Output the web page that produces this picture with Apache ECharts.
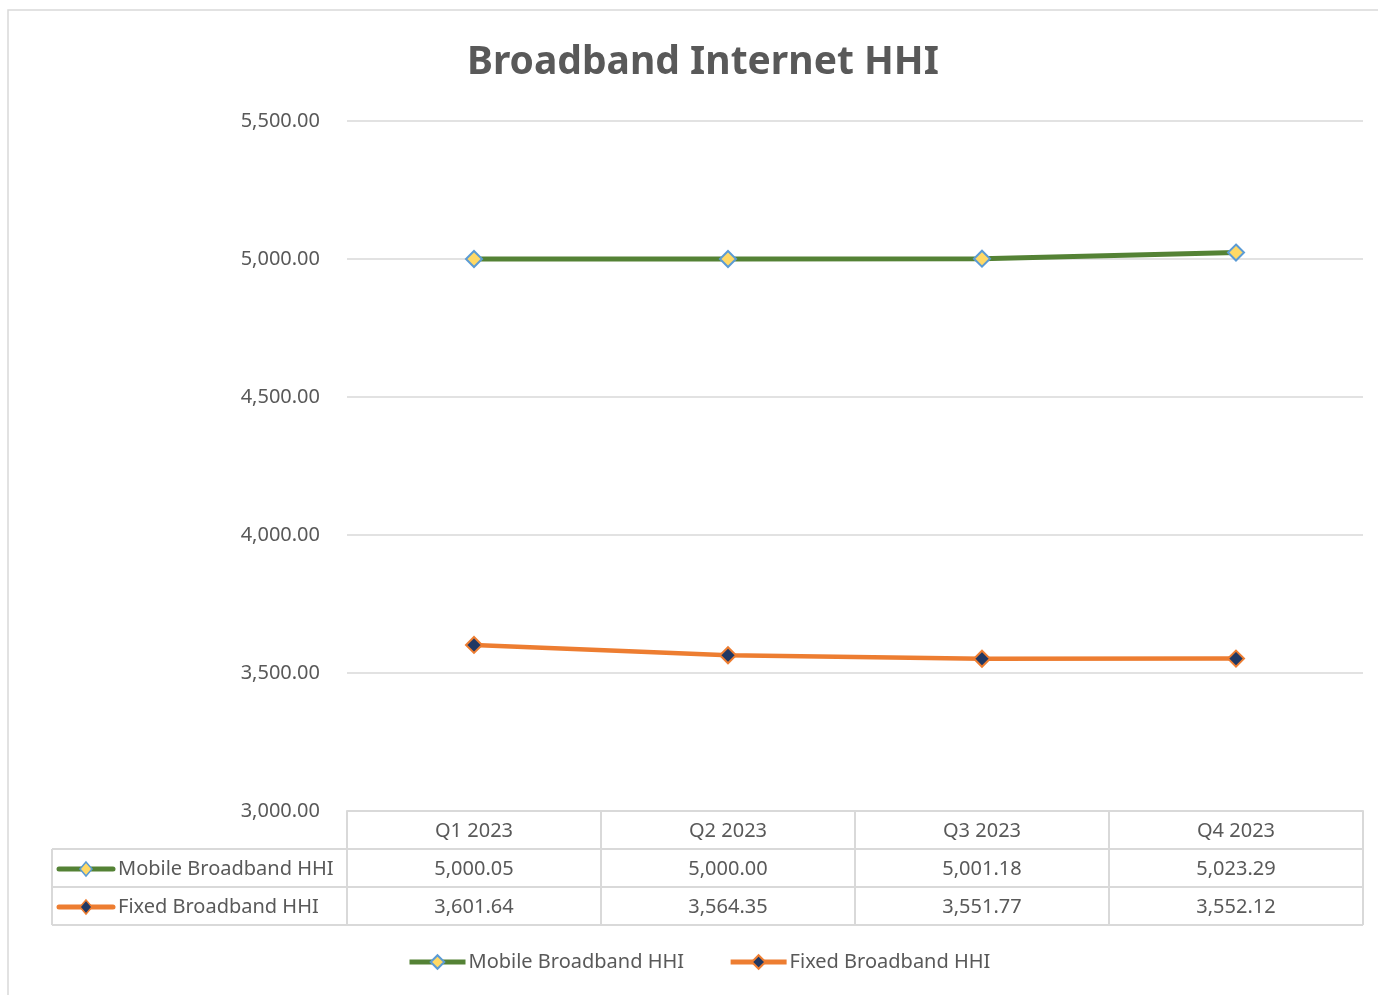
<!DOCTYPE html>
<html><head><meta charset="utf-8">
<script src="https://cdn.jsdelivr.net/npm/echarts@6/dist/echarts.min.js"></script>
<style>html,body{margin:0;padding:0;background:#fff}#c{width:1378px;height:995px}</style>
</head><body><div id="c"></div>
<script>
const categories = ['Q1 2023', 'Q2 2023', 'Q3 2023', 'Q4 2023'];
const seriesNames = ['Mobile Broadband HHI', 'Fixed Broadband HHI'];
const mobile = [5000.05, 5000.00, 5001.18, 5023.29];
const fixed = [3601.64, 3564.35, 3551.77, 3552.12];
const yTicks = [3000, 3500, 4000, 4500, 5000, 5500];

const FONT = 'Noto Sans';
const TXT = '#595959';
const GRIDC = '#d9d9d9';
const fmt = v => v.toLocaleString('en-US', {minimumFractionDigits: 2, maximumFractionDigits: 2});

const chart = echarts.init(document.getElementById('c'));
const styles = [
  {line: '#548235', fill: '#FFD966', border: '#5B9BD5', w: 5},
  {line: '#ED7D31', fill: '#203864', border: '#ED7D31', w: 4.5}
];
const seriesData = [mobile, fixed];

chart.setOption({
  animation: false,
  backgroundColor: '#fff',
  textStyle: {fontFamily: FONT},
  title: {
    text: 'Broadband Internet HHI', left: 462, top: 38,
    textStyle: {fontFamily: FONT, fontSize: 39, fontWeight: 'bold', color: TXT}
  },
  grid: {left: 347, right: 15, top: 121, bottom: 184, containLabel: false},
  xAxis: {
    type: 'category', data: categories, boundaryGap: true,
    axisLabel: {show: false}, axisTick: {show: false},
    axisLine: {show: true, lineStyle: {color: GRIDC, width: 2}}
  },
  yAxis: {
    type: 'value', min: yTicks[0], max: yTicks[yTicks.length - 1], interval: 500,
    axisLabel: {formatter: v => fmt(v), fontSize: 20, color: TXT, margin: 27, fontFamily: FONT},
    axisLine: {show: false}, axisTick: {show: false},
    splitLine: {lineStyle: {color: GRIDC, width: 1.5}}
  },
  legend: {
    top: 947, left: 402, itemWidth: 56, itemHeight: 17, itemGap: 44,
    lineStyle: {width: 5},
    textStyle: {fontSize: 20, color: TXT, fontFamily: FONT, padding: [0, 0, 0, -2]},
    data: seriesNames
  },
  series: seriesNames.map((n, i) => ({
    name: n, type: 'line', data: seriesData[i],
    symbol: 'diamond', symbolSize: 16,
    lineStyle: {color: styles[i].line, width: styles[i].w},
    itemStyle: {color: styles[i].fill, borderColor: styles[i].border, borderWidth: 2},
    emphasis: {disabled: true}
  }))
});

// Data table under the axis, positioned from the axis scale
const xs = categories.map((c, i) => chart.convertToPixel({xAxisIndex: 0}, i));
const band = xs[1] - xs[0];
const yTop = chart.convertToPixel({yAxisIndex: 0}, yTicks[0]);
const rowH = 38;
const tLeft = 52;
const gLeft = xs[0] - band / 2;
const gRight = xs[xs.length - 1] + band / 2;
const g = [];
const line = (x1, y1, x2, y2) => g.push({type: 'line', shape: {x1, y1, x2, y2}, style: {stroke: GRIDC, lineWidth: 2}, silent: true});
const text = (x, y, t, align) => g.push({type: 'text', x, y, style: {text: t, font: '20px "' + FONT + '"', fill: TXT, align: align || 'center', verticalAlign: 'middle'}, silent: true});

// outer chart border
g.push({type: 'rect', shape: {x: 8, y: 10, width: 1390, height: 1000}, style: {fill: 'none', stroke: GRIDC, lineWidth: 1.5}, silent: true});

line(gLeft, yTop, gRight, yTop);
for (let r = 1; r <= 3; r++) line(tLeft, yTop + r * rowH, gRight, yTop + r * rowH);
line(tLeft, yTop + rowH, tLeft, yTop + 3 * rowH);
for (let k = 0; k <= categories.length; k++) {
  const x = gLeft + k * band;
  line(x, yTop, x, yTop + 3 * rowH);
}
categories.forEach((c, i) => text(xs[i], yTop + rowH / 2 + 1, c));
seriesData.forEach((arr, s) => {
  const cy = yTop + rowH * (s + 1.5) + 1;
  arr.forEach((v, i) => text(xs[i], cy, fmt(v)));
  // legend key
  g.push({type: 'line', shape: {x1: tLeft + 7, y1: cy, x2: tLeft + 61, y2: cy}, style: {stroke: styles[s].line, lineWidth: 5, lineCap: 'round'}, silent: true});
  const cx = tLeft + 34;
  g.push({type: 'polygon', shape: {points: [[cx, cy - 7], [cx + 6, cy], [cx, cy + 7], [cx - 6, cy]]}, style: {fill: styles[s].fill, stroke: styles[s].border, lineWidth: 1.5}, silent: true});
  text(tLeft + 66, cy, seriesNames[s], 'left');
});
chart.setOption({graphic: g});
</script></body></html>
